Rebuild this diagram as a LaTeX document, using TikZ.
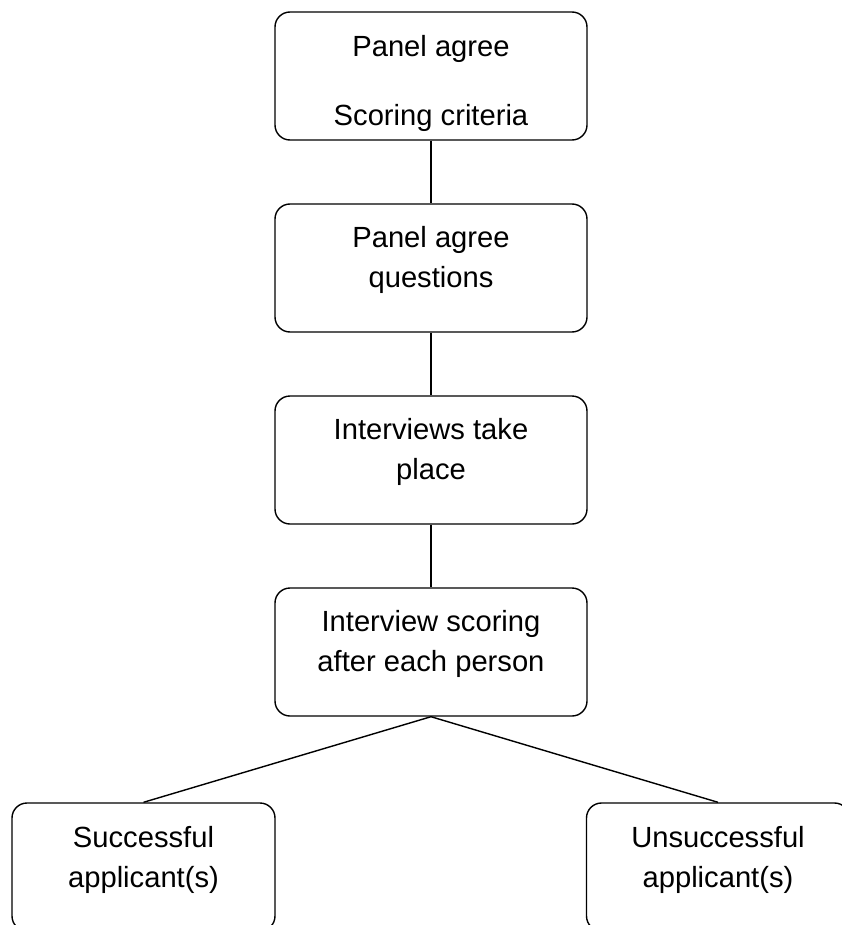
\documentclass[tikz,border=0pt]{standalone}
\usepackage{fontspec}
\setmainfont{Liberation Sans}
\usepackage{tikz}
\usetikzlibrary{positioning}
\tikzstyle{stepbox}=[rectangle, draw=black, line width=0.8pt, rounded corners=0.3cm, minimum width=6.24cm, minimum height=2.56cm]
\tikzstyle{endbox}=[rectangle, draw=black, line width=0.8pt, rounded corners=0.3cm, minimum width=5.26cm, minimum height=2.56cm]
\tikzstyle{steptext}=[anchor=north, align=center, inner sep=0pt, font=\fontsize{16.6}{22.7}\selectfont]
\tikzstyle{link}=[line width=0.8pt]

\begin{document}
\begin{tikzpicture}
\useasboundingbox (0,0) rectangle (16.84,-18.5);
\clip (0,0) rectangle (16.84,-18.5);
%Boxes
\node[stepbox] (criteria) at (8.62,-1.52){};
\node[stepbox] (questions) at (8.62,-5.36){};
\node[stepbox] (interviews) at (8.62,-9.2){};
\node[stepbox] (scoring) at (8.62,-13.04){};
\node[endbox] (success) at (2.87,-17.34){};
\node[endbox] (fail) at (14.36,-17.34){};
%Texts
\node[steptext, below=0.48cm of criteria.north] (criteriatxt){Panel agree\\[0.58cm]Scoring criteria};
\node[steptext, below=0.45cm of questions.north] (questionstxt){Panel agree\\questions};
\node[steptext, below=0.45cm of interviews.north] (interviewstxt){Interviews take\\place};
\node[steptext, below=0.45cm of scoring.north] (scoringtxt){Interview scoring\\after each person};
\node[steptext, below=0.47cm of success.north] (successtxt){Successful\\applicant(s)};
\node[steptext, below=0.47cm of fail.north] (failtxt){Unsuccessful\\applicant(s)};
%Lines
\draw[link] (criteria.south) -- (questions.north);
\draw[link] (questions.south) -- (interviews.north);
\draw[link] (interviews.south) -- (scoring.north);
\draw[link] (scoring.south) -- (success.north);
\draw[link] (scoring.south) -- (fail.north);
\end{tikzpicture}
\end{document}
